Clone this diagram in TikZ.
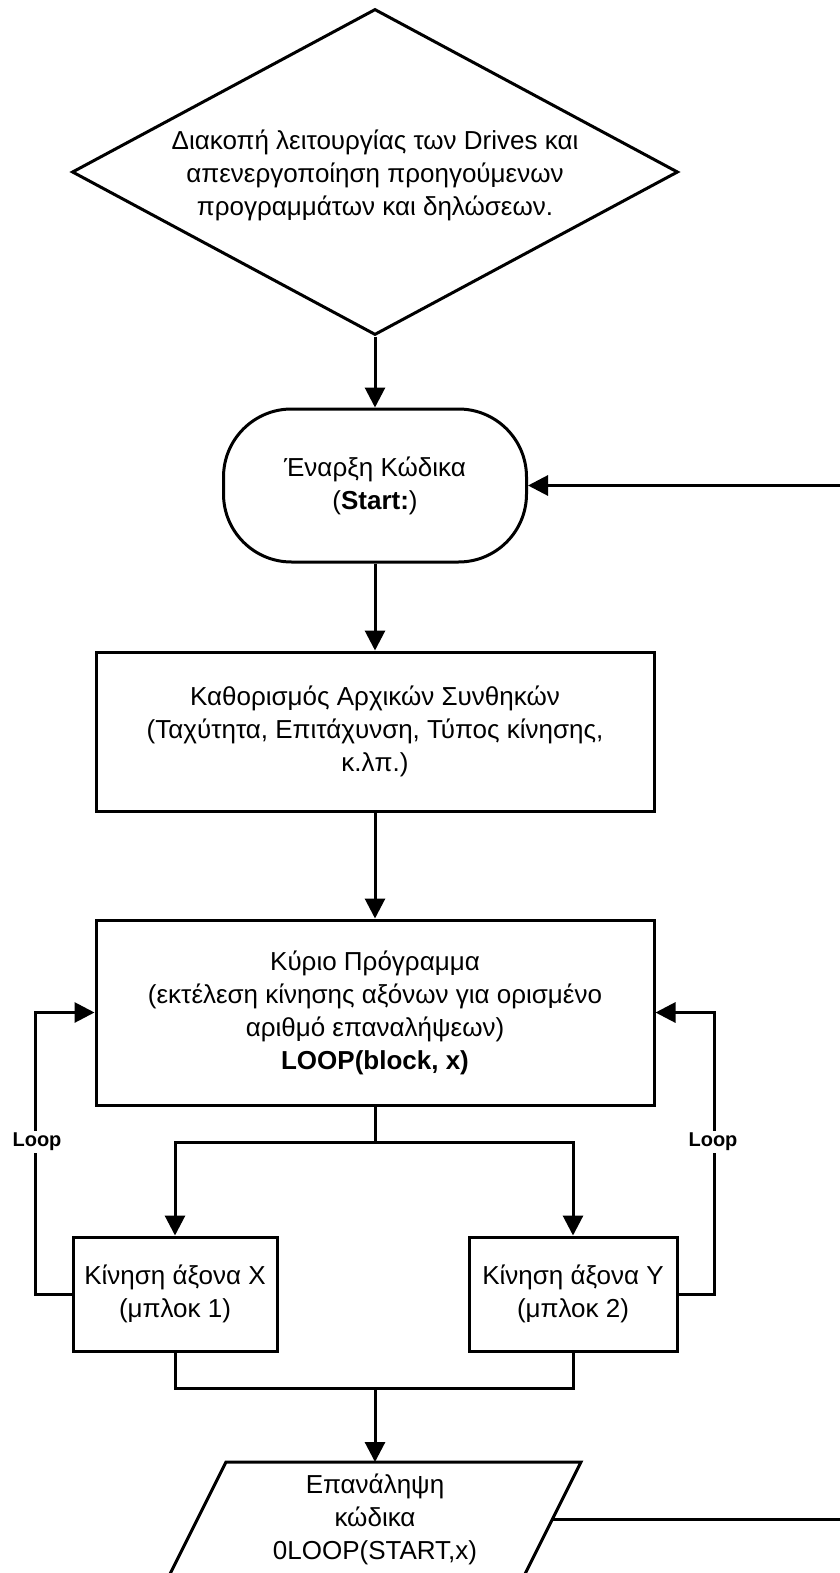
\documentclass[tikz,border=0pt]{standalone}
\usepackage{fontspec}
\setmainfont{Liberation Sans}
\usetikzlibrary{arrows.meta,shapes.geometric}
\tikzset{
  ln/.style={line width=3pt},
  arr/.style={ln,-{Triangle[length=20pt,width=20pt]}},
  box/.style={draw,ln,rectangle,inner sep=0pt,align=center,font=\fontsize{26}{33}\selectfont},
  txt/.style={inner sep=0pt,align=center,font=\fontsize{26}{33}\selectfont},
  looplabel/.style={fill=white,inner sep=2pt,font=\fontsize{20}{22}\selectfont\bfseries}
}
\begin{document}
\begin{tikzpicture}[x=1pt,y=-1pt]
\useasboundingbox (0,0) rectangle (840,1573);
\clip (0,0) rectangle (840,1573);
\fill[white] (0,0) rectangle (840,1573);

% diamond
\node (dia) [draw,ln,diamond,aspect=1.86,minimum width=606pt,minimum height=326pt,inner sep=0pt] at (375,172) {};
\node (diatext) [txt] at (375,175) {Διακοπή λειτουργίας των Drives και\\απενεργοποίηση προηγούμενων\\προγραμμάτων και δηλώσεων.};

% terminal
\node (term) [box,rounded corners=68pt,minimum width=303pt,minimum height=153pt] at (375,485.5) {Έναρξη Κώδικα\\(\textbf{Start:})};

% process boxes
\node (box2) [box,minimum width=558pt,minimum height=159pt] at (375,731.5) {Καθορισμός Αρχικών Συνθηκών\\(Ταχύτητα, Επιτάχυνση, Τύπος κίνησης,\\κ.λπ.)};
\node (box3) [box,minimum width=558pt,minimum height=185pt] at (375,1012.5) {Κύριο Πρόγραμμα\\(εκτέλεση κίνησης αξόνων για ορισμένο\\αριθμό επαναλήψεων)\\\textbf{LOOP(block, x)}};
\node (bx) [box,minimum width=204pt,minimum height=114pt] at (175,1294) {Κίνηση άξονα X\\(μπλοκ 1)};
\node (by) [box,minimum width=208pt,minimum height=114pt] at (573,1294) {Κίνηση άξονα Y\\(μπλοκ 2)};

% parallelogram
\coordinate (pTL) at (226,1462);
\coordinate (pTR) at (581,1462);
\coordinate (pBR) at (523.5,1577);
\coordinate (pBL) at (168.5,1577);
\coordinate (pTop) at (375,1462);
\coordinate (pRight) at (552.25,1519);
\draw[ln,line join=miter] (pTL) -- (pTR) -- (pBR) -- (pBL) -- cycle;
\node (rep) [txt] at (375,1519) {Επανάληψη\\κώδικα\\0LOOP(START,x)};

% connectors
\draw[arr] (dia.south) -- (term.north);
\draw[arr] (term.south) -- (box2.north);
\draw[arr] (box2.south) -- (box3.north);
\coordinate (split) at (375,1142);
\draw[ln] (box3.south) -- (split);
\draw[arr] (split) -| (bx.north);
\draw[arr] (split) -| (by.north);

\draw[arr] (bx.west) -- ++(-36,0) |- (box3.west);
\draw[arr] (by.east) -- ++(36,0) |- (box3.east);
\node (loopL) [looplabel] at (37,1142) {Loop};
\node (loopR) [looplabel] at (713,1142) {Loop};

\coordinate (join) at (375,1387);
\draw[ln] (bx.south) -- ++(0,36) -| (by.south);
\draw[arr] (join) -- (pTop);

\coordinate (outR) at (840,1519);
\coordinate (inR) at (840,485.5);
\draw[ln] (pRight) -- (outR);
\draw[arr] (inR) -- (term.east);
\end{tikzpicture}
\end{document}
